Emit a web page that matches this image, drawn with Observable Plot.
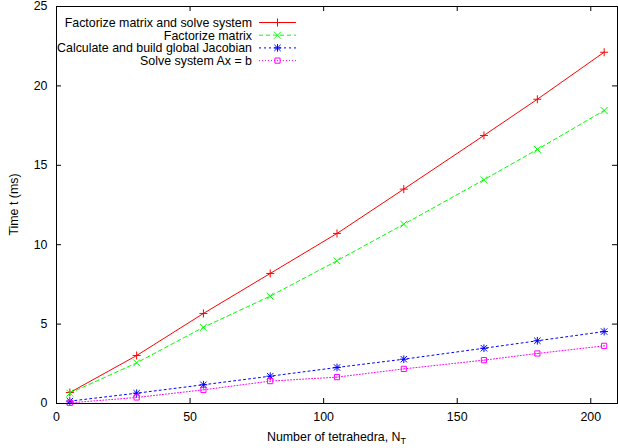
<!DOCTYPE html>
<html><head><meta charset="utf-8">
<script src="https://cdn.jsdelivr.net/npm/d3@7"></script>
<script src="https://cdn.jsdelivr.net/npm/@observablehq/plot@0.6"></script>
<style>body{margin:0;background:#fff} svg{display:block}</style>
</head><body><div id="chart"></div>
<script>
// ---- data ----
const nT = [5, 30, 55, 80, 105, 130, 160, 180, 205];
const factorSolve = [0.69, 3.02, 5.67, 8.19, 10.71, 13.50, 16.88, 19.16, 22.12];
const factorize   = [0.65, 2.56, 4.80, 6.76, 8.99, 11.29, 14.09, 16.00, 18.45];
const jacobian    = [0.15, 0.65, 1.18, 1.72, 2.27, 2.79, 3.48, 3.95, 4.53];
const solveAx     = [0.04, 0.38, 0.86, 1.41, 1.66, 2.18, 2.73, 3.15, 3.63];
const seriesNames = ["Factorize matrix and solve system", "Factorize matrix",
  "Calculate and build global Jacobian", "Solve system Ax = b"];
const xTicks = [0, 50, 100, 150, 200];
const yTicks = [0, 5, 10, 15, 20, 25];

// ---- styles ----
const W = 618, H = 448, mL = 56, mR = 1, mT = 6, mB = 45;
const innerW = W - mL - mR, innerH = H - mT - mB;
const FONT = "'Liberation Sans', Arial, Helvetica, sans-serif";
const FS = 12.4;
const styles = [
  {color: "#ff0000", dash: null,  symbols: ["plus"], r: 2.7},
  {color: "#00ff00", dash: "4,3", symbols: ["times"], r: 3.2},
  {color: "#0000ff", dash: "2,3", symbols: ["plus", "times"], r: 2.6},
  {color: "#ff00ff", dash: "1,2", symbols: ["square2"], r: 3.3}
];
const allSeries = [factorSolve, factorize, jacobian, solveAx];
const rowsOf = arr => nT.map((x, i) => ({x, y: arr[i]}));

const marks = [];
allSeries.forEach((arr, k) => {
  const st = styles[k];
  const rows = rowsOf(arr);
  marks.push(Plot.line(rows, {x: "x", y: "y", stroke: st.color, strokeWidth: 1,
    strokeDasharray: st.dash || undefined}));
});
allSeries.forEach((arr, k) => {
  const st = styles[k];
  const rows = rowsOf(arr);
  st.symbols.forEach(sym => {
    const r = (sym === "times" && k === 2) ? 3.0 : st.r;
    marks.push(Plot.dot(rows, {x: "x", y: "y", symbol: sym, r, stroke: st.color, strokeWidth: 1, fill: "none"}));
  });
  if (k === 3) marks.push(Plot.dot(rows, {x: "x", y: "y", r: 0.6, fill: st.color, stroke: "none"}));
});
// inward ticks on all four sides
marks.push(Plot.ruleX(xTicks, {x: d => d, insetTop: innerH - 5, stroke: "#000"}));
marks.push(Plot.ruleX(xTicks, {x: d => d, insetBottom: innerH - 5, stroke: "#000"}));
marks.push(Plot.ruleY(yTicks, {y: d => d, insetRight: innerW - 5, stroke: "#000"}));
marks.push(Plot.ruleY(yTicks, {y: d => d, insetLeft: innerW - 5, stroke: "#000"}));
marks.push(Plot.axisX(xTicks, {tickSize: 0, tickPadding: 9, fontSize: FS, fill: "#000"}));
marks.push(Plot.axisY(yTicks, {tickSize: 0, tickPadding: 9, fontSize: FS, fill: "#000"}));
marks.push(Plot.frame({stroke: "#000", strokeWidth: 1}));

const svg = Plot.plot({
  width: W, height: H,
  marginLeft: mL, marginRight: mR, marginTop: mT, marginBottom: mB,
  style: {fontFamily: FONT, fontSize: FS + "px", background: "#fff", overflow: "visible"},
  x: {domain: [0, 210], label: null},
  y: {domain: [0, 25], label: null},
  marks
});
document.getElementById("chart").appendChild(svg);

// ---- axis titles & legend ----
const s = d3.select(svg);
const xt = s.append("text").attr("x", mL + innerW / 2).attr("y", 441)
  .attr("text-anchor", "middle").attr("font-family", FONT).attr("font-size", FS).attr("fill", "#000");
xt.append("tspan").text("Number of tetrahedra, N");
xt.append("tspan").attr("font-size", 9).attr("dy", 3).text("T");
s.append("text").attr("transform", `translate(18,${mT + innerH / 2}) rotate(-90)`)
  .attr("text-anchor", "middle").attr("font-family", FONT).attr("font-size", FS).attr("fill", "#000")
  .text("Time t (ms)");

const symMap = {plus: d3.symbolPlus, times: d3.symbolTimes, square2: d3.symbolSquare2};
const lg = s.append("g").attr("font-family", FONT).attr("font-size", FS);
seriesNames.forEach((name, k) => {
  const st = styles[k];
  const cy = 22.5 + k * 12.7;
  lg.append("text").attr("x", 252).attr("y", cy).attr("dy", "0.35em")
    .attr("text-anchor", "end").attr("fill", "#000").text(name);
  lg.append("line").attr("x1", 259).attr("x2", 296).attr("y1", cy).attr("y2", cy)
    .attr("stroke", st.color).attr("stroke-width", 1)
    .attr("stroke-dasharray", st.dash || null);
  st.symbols.forEach(sym => {
    const r = (sym === "times" && k === 2) ? 3.0 : st.r;
    lg.append("path").attr("transform", `translate(277.5,${cy})`)
      .attr("d", d3.symbol(symMap[sym], r * r * Math.PI)())
      .attr("fill", "none").attr("stroke", st.color).attr("stroke-width", 1);
  });
  if (k === 3) lg.append("circle").attr("cx", 277.5).attr("cy", cy).attr("r", 0.6).attr("fill", st.color);
});
</script>
</body></html>
